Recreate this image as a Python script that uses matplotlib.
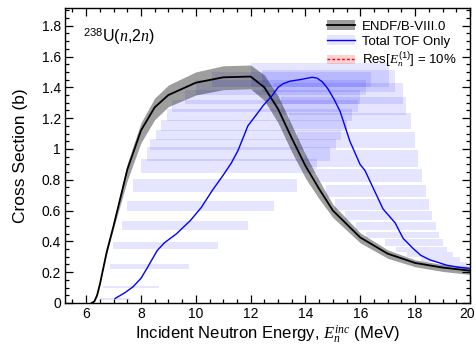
import numpy as np
import matplotlib
matplotlib.use('Agg')
import matplotlib.pyplot as plt
import matplotlib.transforms as mtransforms
from matplotlib.patches import Patch
from matplotlib.lines import Line2D
from matplotlib.ticker import MultipleLocator, FuncFormatter

plt.rcParams['font.family'] = ['Liberation Sans', 'DejaVu Sans']
plt.rcParams['mathtext.fontset'] = 'custom'
plt.rcParams['mathtext.rm'] = 'Liberation Sans'
plt.rcParams['mathtext.it'] = 'Liberation Serif:italic'
plt.rcParams['mathtext.bf'] = 'Liberation Sans:bold'

# ENDF/B-VIII.0 evaluation with its uncertainty band
endf_e = np.array([6.2, 6.3, 6.4, 6.5, 6.75, 7.0, 7.5, 8.0, 8.5, 9.0, 10, 11, 12, 12.5,
                   13, 13.5, 14, 14.5, 15, 16, 17, 18, 19, 20])
endf_xs = np.array([0.0, 0.01, 0.05, 0.12, 0.33, 0.50, 0.865, 1.12, 1.27, 1.35, 1.43, 1.465,
                    1.47, 1.40, 1.26, 1.07, 0.89, 0.74, 0.60, 0.425, 0.32, 0.26, 0.23, 0.21])
endf_up = np.array([0, 0, 0.005, 0.005, 0.01, 0.015, 0.04, 0.05, 0.06, 0.065, 0.07, 0.075,
                    0.075, 0.08, 0.085, 0.085, 0.075, 0.055, 0.04, 0.03, 0.025, 0.02, 0.02, 0.02])
endf_dn = np.array([0, 0, 0.005, 0.005, 0.01, 0.015, 0.07, 0.08, 0.08, 0.075, 0.08, 0.08,
                    0.08, 0.085, 0.09, 0.09, 0.08, 0.065, 0.045, 0.035, 0.03, 0.025, 0.025, 0.025])

# total TOF only curve
tof_e = np.array([7.06, 7.4, 7.71, 8.0, 8.22, 8.59, 8.85, 9.3, 9.8, 10.2, 10.6, 11.0, 11.3,
                  11.54, 11.9, 12.2, 12.45, 12.78, 13.0, 13.2, 13.44, 13.8, 14.24, 14.42,
                  14.62, 14.82, 15.05, 15.26, 15.62, 15.99, 16.17, 16.46, 16.83, 17.27,
                  17.56, 17.92, 18.2, 18.54, 19.16, 19.6, 20.0])
tof_xs = np.array([0.03, 0.065, 0.105, 0.16, 0.225, 0.34, 0.39, 0.45, 0.535, 0.62, 0.73, 0.83,
                   0.91, 0.99, 1.15, 1.22, 1.28, 1.345, 1.40, 1.425, 1.44, 1.45, 1.465, 1.46,
                   1.435, 1.39, 1.32, 1.245, 1.05, 0.90, 0.86, 0.75, 0.61, 0.52, 0.42, 0.355,
                   0.31, 0.28, 0.245, 0.232, 0.225])

# resolution boxes of the TOF points (energy range and cross section error)
box_lo = np.array([6.51, 6.62, 6.87, 6.98, 7.31, 7.49, 7.70, 8.00, 8.22, 8.33, 8.55, 8.73,
                   8.95, 9.13, 9.60, 10.0, 10.6,
                   12.0, 12.4, 12.8, 13.1, 13.4, 13.7, 14.0, 14.42, 14.75, 15.08, 15.44,
                   15.84, 16.2, 16.9, 17.3, 17.7, 18.2, 18.9, 19.5])
box_hi = np.array([7.60, 8.66, 9.75, 10.81, 11.90, 12.85, 13.69, 14.42, 14.9, 15.1, 15.3,
                   15.5, 15.7, 15.9, 16.0, 16.2, 16.4,
                   17.05, 17.27, 17.56, 17.67, 17.85, 18.0, 18.1, 18.25, 18.4, 18.5, 18.6,
                   18.76, 18.87, 19.0, 19.16, 19.38, 19.63, 19.9, 20.0])
box_xs = np.array([0.026, 0.103, 0.235, 0.371, 0.506, 0.629, 0.765, 0.89, 0.965, 1.03, 1.09,
                   1.15, 1.22, 1.28, 1.34, 1.40, 1.45,
                   1.48, 1.44, 1.36, 1.28, 1.184, 1.058, 0.938, 0.828, 0.724, 0.640, 0.568,
                   0.497, 0.439, 0.393, 0.345, 0.312, 0.28, 0.248, 0.225])
box_err = np.array([0.005, 0.007, 0.016, 0.023, 0.029, 0.035, 0.042, 0.045, 0.045, 0.035,
                    0.035, 0.035, 0.04, 0.04, 0.045, 0.05, 0.05,
                    0.075, 0.07, 0.065, 0.06, 0.052, 0.055, 0.052, 0.045, 0.039, 0.037, 0.032,
                    0.026, 0.02, 0.022, 0.016, 0.016, 0.016, 0.016, 0.014])

fig = plt.figure(figsize=(4.76, 3.45), dpi=100)
ax = fig.add_axes([65/476, 42/345, 405/476, 295/345])

ax.barh(box_xs, box_hi - box_lo, height=2*box_err, left=box_lo, color='blue',
        alpha=0.1, linewidth=0, zorder=1)
ax.fill_between(endf_e, endf_xs - endf_dn, endf_xs + endf_up, color='black', alpha=0.38,
                linewidth=0, zorder=2)
ax.plot(endf_e, endf_xs, color='black', lw=1.3, zorder=3)
ax.plot(tof_e, tof_xs, color='blue', lw=1.0, zorder=4)

ax.set_xlim(5.23, 20)
ax.set_ylim(0, 1.915)
ax.xaxis.set_major_locator(MultipleLocator(2))
ax.xaxis.set_minor_locator(MultipleLocator(0.5))
ax.yaxis.set_major_locator(MultipleLocator(0.2))
ax.yaxis.set_minor_locator(MultipleLocator(0.05))
ax.yaxis.set_major_formatter(FuncFormatter(lambda v, p: '%g' % round(v, 2)))
ax.tick_params(which='both', direction='in', top=True, right=True, labelsize=10, width=0.9)
ax.tick_params(which='major', length=6, pad=3)
ax.tick_params(which='minor', length=3)
for s in ax.spines.values():
    s.set_linewidth(1.0)

ax.set_xlabel('Incident Neutron Energy, $E_n^{inc}$ (MeV)', fontsize=12, labelpad=1.5)
ax.set_ylabel('Cross Section (b)', fontsize=12.5, labelpad=10)
ax.text(0.045, 0.94, '$^{238}$U($n$,2$n$)', transform=ax.transAxes, fontsize=11.5,
        va='top', ha='left')

h1 = (Patch(facecolor='black', alpha=0.38, linewidth=0), Line2D([], [], color='black', lw=1.3))
h2 = (Patch(facecolor='blue', alpha=0.1, linewidth=0), Line2D([], [], color='blue', lw=1.0))
h3 = (Patch(facecolor='red', alpha=0.18, linewidth=0),
      Line2D([], [], color='red', lw=1.0, ls=(0, (2, 1.5))))
ax.legend([h1, h2, h3], ['ENDF/B-VIII.0', 'Total TOF Only', 'Res[$E_n^{(1)}$] = 10%'],
          loc='upper left', bbox_to_anchor=(0.648, 0.958), frameon=False, fontsize=9.5,
          handlelength=2.1, handletextpad=0.5, labelspacing=0.2, borderpad=0,
          borderaxespad=0)

# keep the last x tick label inside the canvas
fig.canvas.draw()
for lab in ax.get_xticklabels():
    if lab.get_text() == '20':
        lab.set_transform(lab.get_transform() +
                          mtransforms.ScaledTranslation(-3/100, 0, fig.dpi_scale_trans))

fig.savefig('out.png', dpi=100)
